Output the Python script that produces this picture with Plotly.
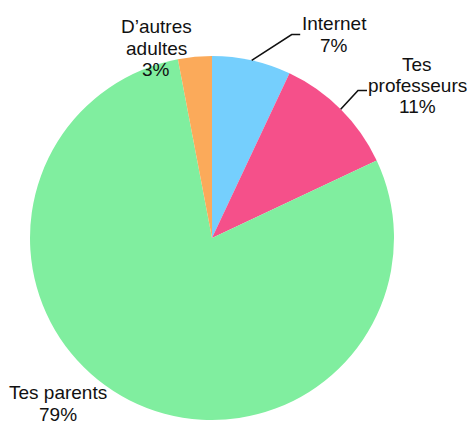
import math
import plotly.graph_objects as go

# ---- data ----
categories = ["Internet", "Tes professeurs", "Tes parents", "D’autres adultes"]
values = [7, 11, 79, 3]
colors = ["#75cffd", "#f5508a", "#80ee9f", "#fbaa5a"]
label_lines = [["Internet", "7%"], ["Tes", "professeurs", "11%"],
               ["Tes parents", "79%"], ["D’autres", "adultes", "3%"]]

# ---- layout (pixels) ----
W, H = 467, 421
CX, CY, R = 212, 238, 182
# label block: centre x, first line centre y
label_pos = [(334, 24), (417, 64), (57.5, 392.5), (156, 26.5)]
line_gap = 21.5
# connector elbows (None = no connector)
elbow = [(291.7, 34.5), (358, 90.5), None, None]
elbow_len = [8.5, 9, 0, 0]

def px(x):
    return x / W

def py(y):
    return 1 - y / H

fig = go.Figure(go.Pie(
    labels=categories, values=values, sort=False, direction="clockwise",
    rotation=0, textinfo="none", hoverinfo="label+percent",
    marker=dict(colors=colors, line=dict(width=0)),
    domain=dict(x=[px(CX - R), px(CX + R)], y=[py(CY + R), py(CY - R)]),
    showlegend=False,
))

annotations = []
shapes = []
total = sum(values)
cum = 0
for i, v in enumerate(values):
    mid = (cum + v / 2) / total * 2 * math.pi
    cum += v
    lx, ly = label_pos[i]
    for k, t in enumerate(label_lines[i]):
        annotations.append(dict(
            x=px(lx), y=py(ly + k * line_gap), xref="paper", yref="paper",
            text=t, showarrow=False, xanchor="center", yanchor="middle",
            font=dict(family="Liberation Sans, Arial, sans-serif", size=19, color="#111"),
        ))
    if elbow[i] is not None:
        sx = CX + R * math.sin(mid)
        sy = CY - R * math.cos(mid)
        ex, ey = elbow[i]
        path = (f"M {px(sx)},{py(sy)} L {px(ex)},{py(ey)} "
                f"L {px(ex + elbow_len[i])},{py(ey)}")
        shapes.append(dict(type="path", path=path, xref="paper", yref="paper",
                           line=dict(color="#111", width=1.6)))

fig.update_layout(
    width=W, height=H, margin=dict(l=0, r=0, t=0, b=0),
    paper_bgcolor="white", plot_bgcolor="white",
    annotations=annotations, shapes=shapes,
)

fig.write_html("out.html", config={"displayModeBar": False},
               post_script="document.body.style.margin='0';document.body.style.overflow='hidden';")
